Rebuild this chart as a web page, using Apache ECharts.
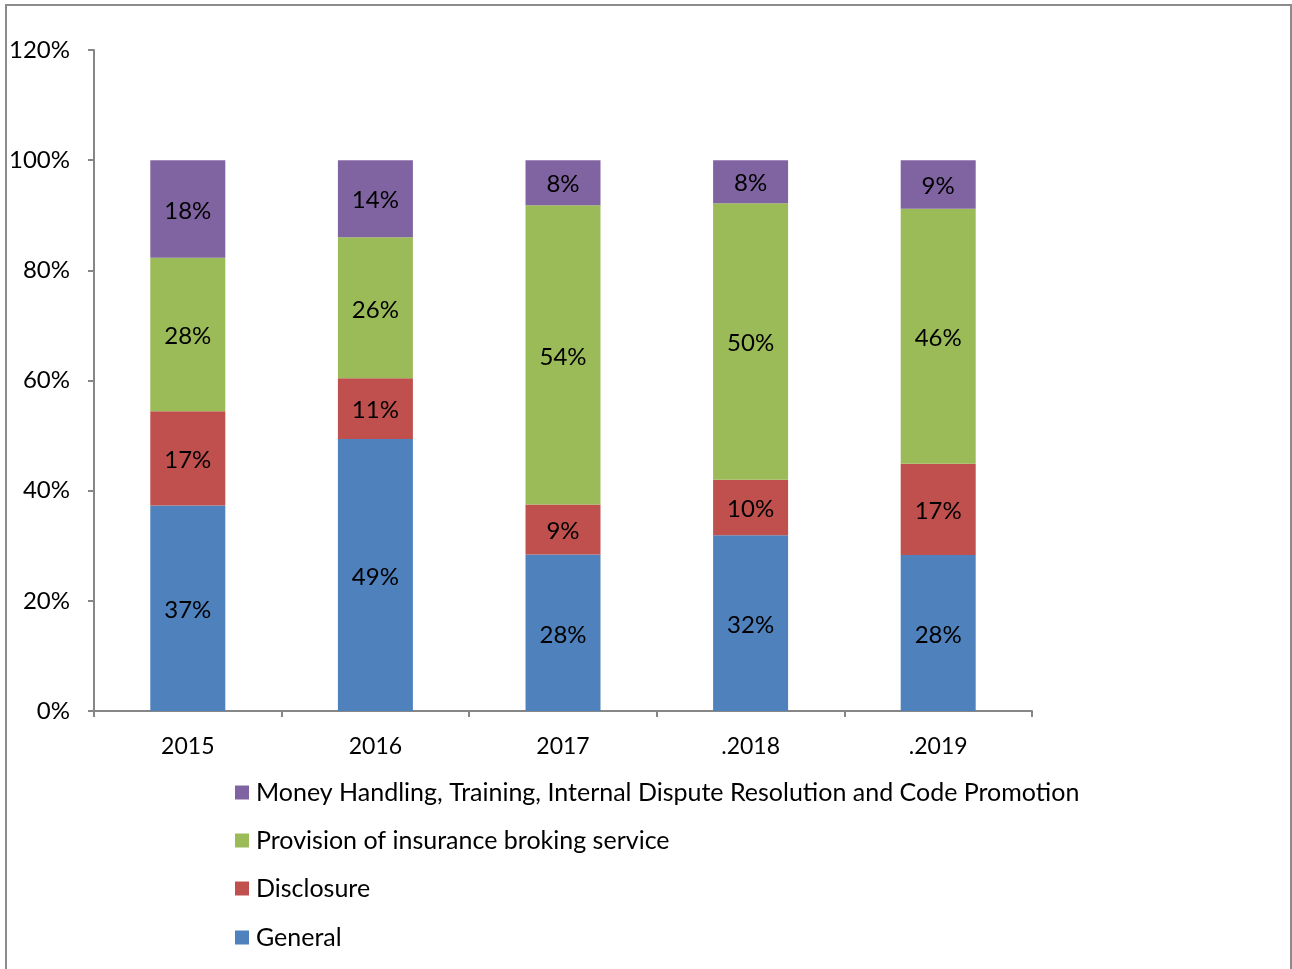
<!DOCTYPE html>
<html>
<head>
<meta charset="utf-8">
<script src="https://cdn.jsdelivr.net/npm/echarts@6/dist/echarts.min.js"></script>
<style>
  html, body { margin: 0; padding: 0; background: #fff; }
  #chart { width: 1292px; height: 969px; }
</style>
</head>
<body>
<div id="chart"></div>
<script>
// Complaint categories by year, share of total (%)
const years = ['2015', '2016', '2017', '.2018', '.2019'];
const general = [37.3, 49.4, 28.4, 31.9, 28.3];
const disclosure = [17.1, 11.0, 9.1, 10.1, 16.6];
const provision = [27.9, 25.6, 54.3, 50.2, 46.3];
const moneyHandling = [17.7, 14.0, 8.2, 7.8, 8.8];
const yTicks = [0, 20, 40, 60, 80, 100, 120];

const names = {
  general: 'General',
  disclosure: 'Disclosure',
  provision: 'Provision of insurance broking service',
  money: 'Money Handling, Training, Internal Dispute Resolution and Code Promotion'
};

const FONT = 'Lato';
const FS = 23;
const AXIS_COLOR = '#868686';

function barSeries(name, data, color) {
  return {
    name: name,
    type: 'bar',
    stack: 'total',
    barWidth: 75,
    data: data,
    itemStyle: { color: color },
    label: {
      show: true,
      position: 'inside',
      offset: [0, 2],
      color: '#000',
      fontFamily: FONT,
      fontSize: 24,
      formatter: p => Math.round(p.value) + '%'
    }
  };
}

const legendOrder = [
  [names.money, 780],
  [names.provision, 828],
  [names.disclosure, 876],
  [names.general, 925]
];

const chart = echarts.init(document.getElementById('chart'), null, { renderer: 'canvas' });
chart.setOption({
  animation: false,
  backgroundColor: '#fff',
  graphic: [{
    type: 'rect',
    shape: { x: 6, y: 5, width: 1285, height: 1000 },
    style: { fill: 'none', stroke: '#8c8c8c', lineWidth: 2 },
    silent: true
  }],
  grid: { left: 94, right: 260, top: 50, bottom: 258 },
  legend: legendOrder.map(([n, top]) => ({
    data: [n],
    left: 235,
    top: top,
    orient: 'vertical',
    icon: 'rect',
    itemWidth: 14,
    itemHeight: 14,
    itemGap: 0,
    padding: 0,
    selectedMode: false,
    textStyle: { fontFamily: FONT, fontSize: 25, color: '#000', padding: [0, 0, 0, 2] }
  })),
  xAxis: {
    type: 'category',
    data: years,
    axisLine: { lineStyle: { color: AXIS_COLOR, width: 2 } },
    axisTick: { show: true, length: 6, alignWithLabel: false, lineStyle: { color: AXIS_COLOR, width: 2 } },
    axisLabel: { color: '#000', fontFamily: FONT, fontSize: FS, margin: 24 },
    splitLine: { show: false }
  },
  yAxis: {
    type: 'value',
    min: yTicks[0],
    max: yTicks[yTicks.length - 1],
    interval: yTicks[1] - yTicks[0],
    axisLine: { show: true, lineStyle: { color: AXIS_COLOR, width: 2 } },
    axisTick: { show: true, length: 6, lineStyle: { color: AXIS_COLOR, width: 2 } },
    axisLabel: { color: '#000', fontFamily: FONT, fontSize: 24, margin: 24, formatter: v => v + '%' },
    splitLine: { show: false }
  },
  series: [
    barSeries(names.general, general, '#4F81BD'),
    barSeries(names.disclosure, disclosure, '#C0504D'),
    barSeries(names.provision, provision, '#9BBB59'),
    barSeries(names.money, moneyHandling, '#8064A2')
  ]
});
</script>
</body>
</html>
